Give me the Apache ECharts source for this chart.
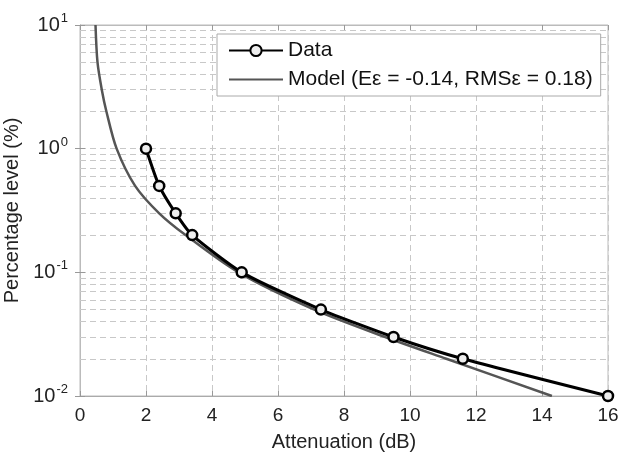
<!DOCTYPE html>
<html>
<head>
<meta charset="utf-8">
<script src="https://cdn.jsdelivr.net/npm/echarts@6/dist/echarts.min.js"></script>
<style>
  html, body { margin: 0; padding: 0; background: #fff; }
  #chart { width: 622px; height: 455px; }
</style>
</head>
<body>
<div id="chart"></div>
<script>
// measured points (attenuation dB, percentage %)
const dataX = [2, 2.4, 2.9, 3.4, 4.9, 7.3, 9.5, 11.6, 16];
const dataY = [1, 0.5, 0.3, 0.2, 0.1, 0.05, 0.03, 0.02, 0.01];
// model curve
const modelX = [0.47, 0.53, 0.66, 0.8, 1.11, 1.67, 2.4, 3.2, 4.8, 7.1, 9.25, 11.1, 14.3];
const modelY = [10, 5, 3, 2, 1, 0.5, 0.3, 0.2, 0.1, 0.05, 0.03, 0.02, 0.01];
const decades = [0.01, 0.1, 1, 10];
const modelName = 'Model (E\u03b5 = -0.14, RMS\u03b5 = 0.18)';

const minorLines = [];
decades.slice(0, 3).forEach(d => {
    for (let k = 2; k <= 9; k++) minorLines.push({ yAxis: +(d * k).toPrecision(3) });
});

const font = 'Liberation Sans, Arial, sans-serif';
const gridDash = { color: '#c8c8c8', type: [6, 4], width: 1 };

const chart = echarts.init(document.getElementById('chart'));
chart.setOption({
    animation: false,
    textStyle: { fontFamily: font },
    grid: {
        left: 80, right: 14, top: 25, bottom: 59,
        outerBoundsMode: 'none', containLabel: false,
        show: true, borderColor: '#bbb', borderWidth: 1
    },
    legend: {
        orient: 'vertical',
        left: 217,
        top: 34,
        itemWidth: 54,
        itemHeight: 14,
        itemGap: 8,
        padding: [6, 8, 6, 11],
        backgroundColor: '#fff',
        borderColor: '#aaa',
        borderWidth: 1,
        textStyle: { fontSize: 21, color: '#111', fontFamily: font },
        data: [
            { name: 'Data' },
            { name: modelName, itemStyle: { opacity: 0 } }
        ]
    },
    xAxis: [{
        type: 'value',
        min: 0, max: 16, interval: 2,
        name: 'Attenuation (dB)',
        nameLocation: 'middle',
        nameGap: 36,
        nameTextStyle: { fontSize: 20, color: '#222' },
        axisLine: { lineStyle: { color: '#aaa' } },
        axisTick: { inside: true, length: 5, lineStyle: { color: '#999' } },
        axisLabel: { fontSize: 19, color: '#222', margin: 10 },
        splitLine: { show: true, lineStyle: gridDash }
    }, {
        type: 'value', position: 'top',
        min: 0, max: 16, interval: 2,
        axisLine: { show: true, lineStyle: { color: '#bbb' } },
        axisTick: { show: true, inside: true, length: 5, lineStyle: { color: '#999' } },
        axisLabel: { show: false },
        splitLine: { show: false }
    }],
    yAxis: [{
        type: 'log',
        logBase: 10,
        min: 0.01, max: 10,
        name: 'Percentage level (%)',
        nameLocation: 'middle',
        nameGap: 53,
        nameTextStyle: { fontSize: 20, color: '#222' },
        axisLine: { lineStyle: { color: '#aaa' } },
        axisTick: { inside: true, length: 5, lineStyle: { color: '#999' } },
        axisLabel: {
            margin: 12,
            formatter: v => '{b|10}{s|' + Math.round(Math.log10(v)) + '}',
            rich: {
                b: { fontSize: 20, color: '#222', fontFamily: font },
                s: { fontSize: 13, color: '#222', fontFamily: font, verticalAlign: 'bottom', padding: [0, 0, 13, 1] }
            }
        },
        splitLine: { show: true, lineStyle: gridDash }
    }, {
        type: 'log', logBase: 10, position: 'right',
        min: 0.01, max: 10,
        axisLine: { show: true, lineStyle: { color: '#bbb' } },
        axisTick: { show: true, inside: true, length: 5, lineStyle: { color: '#999' } },
        axisLabel: { show: false },
        splitLine: { show: false }
    }],
    series: [{
        name: modelName,
        type: 'line',
        smooth: 0.3,
        showSymbol: false,
        symbol: 'none',
        data: modelX.map((x, i) => [x, modelY[i]]),
        lineStyle: { color: '#555', width: 2.5 },
        itemStyle: { color: '#555' },
        z: 3,
        markLine: {
            silent: true,
            symbol: 'none',
            label: { show: false },
            lineStyle: gridDash,
            data: minorLines,
            z: 1
        }
    }, {
        name: 'Data',
        type: 'line',
        smooth: 0.2,
        data: dataX.map((x, i) => [x, dataY[i]]),
        symbol: 'circle',
        symbolSize: 10,
        lineStyle: { color: '#000', width: 3 },
        itemStyle: { color: '#eee', borderColor: '#000', borderWidth: 2.5 },
        z: 4
    }]
});
</script>
</body>
</html>
